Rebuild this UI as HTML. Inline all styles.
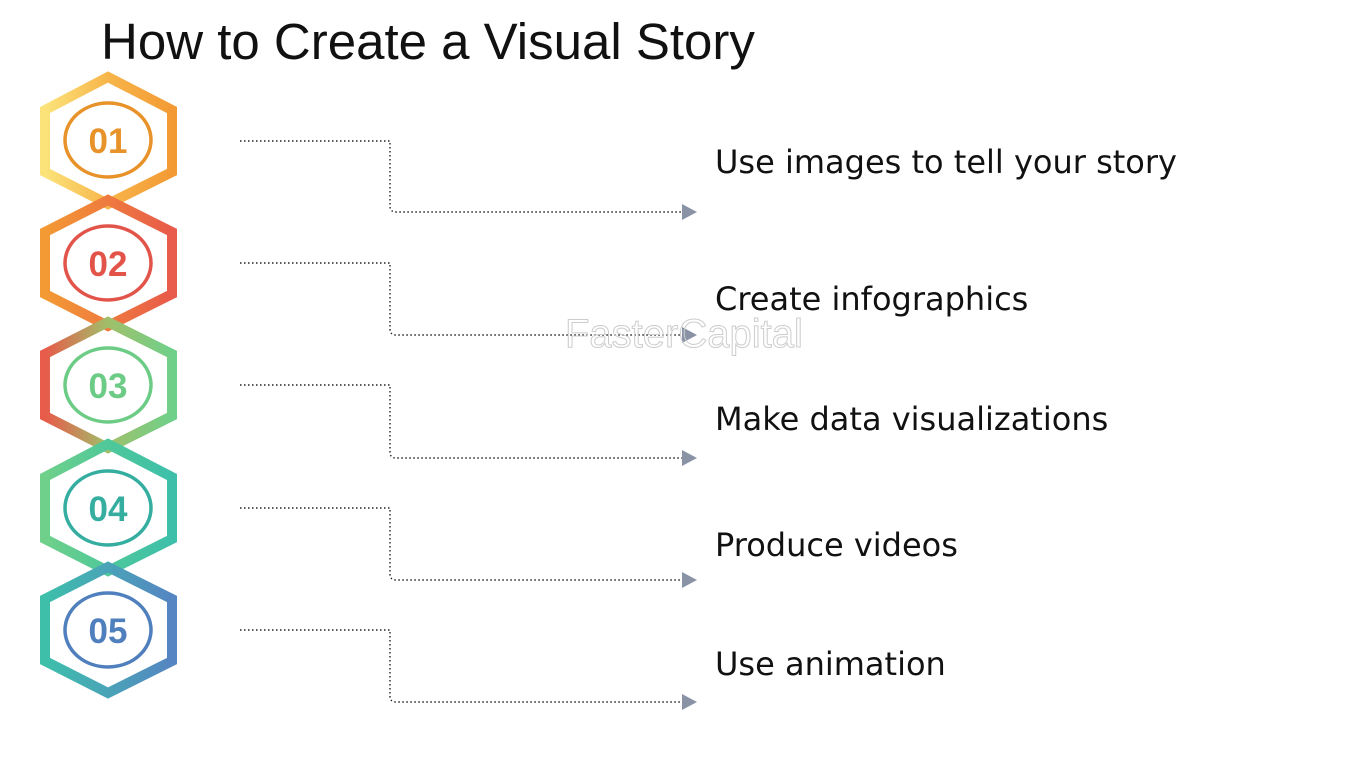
<!DOCTYPE html>
<html><head><meta charset="utf-8"><style>
html,body{margin:0;padding:0;background:#fff;}
body{width:1350px;height:759px;position:relative;overflow:hidden;font-family:"Liberation Sans",sans-serif;}
.t{position:absolute;left:715px;font-size:32px;color:#111;white-space:nowrap;font-family:"DejaVu Sans","Liberation Sans",sans-serif;}
</style></head><body>
<div style="position:absolute;left:101px;top:12px;font-size:51px;color:#111;">How to Create a Visual Story</div>
<svg width="1350" height="759" style="position:absolute;left:0;top:0">
<defs>
<linearGradient id="g1" x1="0" x2="1"><stop offset="0" stop-color="#fbe37a"/><stop offset="0.5" stop-color="#f7b54a"/><stop offset="1" stop-color="#f39a34"/></linearGradient>
<linearGradient id="g2" x1="0" x2="1"><stop offset="0" stop-color="#f39a34"/><stop offset="0.5" stop-color="#ee7a3e"/><stop offset="1" stop-color="#e85a4a"/></linearGradient>
<linearGradient id="g3" x1="0" x2="1"><stop offset="0" stop-color="#e85a4a"/><stop offset="0.5" stop-color="#9fc06a"/><stop offset="1" stop-color="#6fd08a"/></linearGradient>
<linearGradient id="g4" x1="0" x2="1"><stop offset="0" stop-color="#6fd08a"/><stop offset="0.5" stop-color="#4fc89a"/><stop offset="1" stop-color="#3dbfaa"/></linearGradient>
<linearGradient id="g5" x1="0" x2="1"><stop offset="0" stop-color="#3dbfaa"/><stop offset="0.5" stop-color="#4aa3b8"/><stop offset="1" stop-color="#5585c2"/></linearGradient>
</defs>
<g fill="none" stroke-width="10" stroke-linejoin="miter">
<polygon points="108,77 172,110 172,172 108,204 45,172 45,110" stroke="url(#g1)"/>
<polygon points="108,200 172,232 172,294 108,326 45,294 45,232" stroke="url(#g2)"/>
<polygon points="108,322 172,354 172,416 108,448 45,416 45,354" stroke="url(#g3)"/>
<polygon points="108,444 172,477 172,539 108,571 45,539 45,477" stroke="url(#g4)"/>
<polygon points="108,567 172,599 172,661 108,693 45,661 45,599" stroke="url(#g5)"/>
</g>
<g fill="none" stroke-width="3.5">
<ellipse cx="108" cy="140" rx="43" ry="37" stroke="#e8922a"/>
<ellipse cx="108" cy="263" rx="43" ry="37" stroke="#e2544a"/>
<ellipse cx="108" cy="385" rx="43" ry="37" stroke="#6ccc86"/>
<ellipse cx="108" cy="508" rx="43" ry="37" stroke="#35aea0"/>
<ellipse cx="108" cy="630" rx="43" ry="37" stroke="#4f7fbd"/>
</g>
<g font-family="Liberation Sans,sans-serif" font-weight="bold" font-size="35" text-anchor="middle">
<text x="108" y="153" fill="#e8922a">01</text>
<text x="108" y="276" fill="#e2544a">02</text>
<text x="108" y="398" fill="#6ccc86">03</text>
<text x="108" y="521" fill="#35aea0">04</text>
<text x="108" y="643" fill="#4f7fbd">05</text>
</g>
<g fill="none" stroke="#222" stroke-width="1.4" stroke-dasharray="1.5 2.5">
<path d="M240,141 H390 V206 Q390,212 396,212 H683"/>
<path d="M240,263 H390 V329 Q390,335 396,335 H683"/>
<path d="M240,385 H390 V452 Q390,458 396,458 H683"/>
<path d="M240,508 H390 V574 Q390,580 396,580 H683"/>
<path d="M240,630 H390 V696 Q390,702 396,702 H683"/>
</g>
<g fill="#8a93a6">
<polygon points="682,204 697,212 682,220"/>
<polygon points="682,327 697,335 682,343"/>
<polygon points="682,450 697,458 682,466"/>
<polygon points="682,572 697,580 682,588"/>
<polygon points="682,694 697,702 682,710"/>
</g>
<text x="565" y="347" font-size="40" fill="none" stroke="#ccc" stroke-width="1" font-family="Liberation Sans,sans-serif">FasterCapital</text>
</svg>
<div class="t" style="top:143px">Use images to tell your story</div>
<div class="t" style="top:280px">Create infographics</div>
<div class="t" style="top:400px">Make data visualizations</div>
<div class="t" style="top:526px">Produce videos</div>
<div class="t" style="top:645px">Use animation</div>
</body></html>
